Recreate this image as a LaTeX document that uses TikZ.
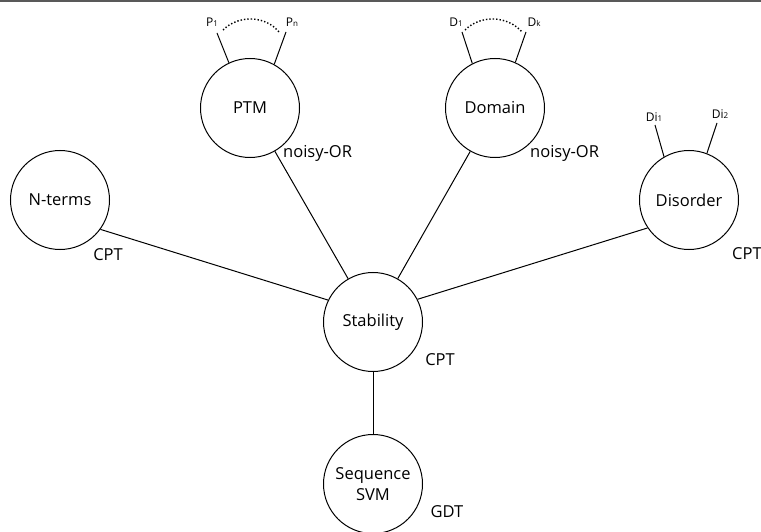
\documentclass[tikz,border=0pt]{standalone}
\usepackage{fontspec}
\setmainfont{Open Sans}
\begin{document}
\begin{tikzpicture}[x=1pt,y=-1pt,
  var/.style={draw, circle, line width=1pt, minimum size=99pt, inner sep=0pt, align=center, font=\fontsize{16.5}{20}\selectfont},
  tbl/.style={font=\fontsize{16.5}{20}\selectfont, inner sep=0pt},
  sub/.style={font=\fontsize{12}{13}\selectfont, inner sep=0pt},
  edge/.style={line width=1pt},
  dots/.style={dotted, line width=1.4pt}]
\useasboundingbox (0,0) rectangle (761,532);
\fill[black!65] (0,0) rectangle (761,2);

\node[var] (ptm) at (250,108) {PTM};
\node[var] (dom) at (495,108) {Domain};
\node[var] (nt) at (60,200) {N-terms};
\node[var] (dis) at (689,200) {Disorder};
\node[var] (stab) at (373,322) {Stability};
\node[var, font=\fontsize{16.5}{21}\selectfont] (seq) at (373,484) {Sequence\\SVM};

\node[tbl, anchor=west] (ptmt) at (283,153) {noisy-OR};
\node[tbl, anchor=west] (domt) at (530,153) {noisy-OR};
\node[tbl] (ntt) at (108,255) {CPT};
\node[tbl, anchor=west] (dist) at (732,254) {CPT};
\node[tbl] (stabt) at (440,360) {CPT};
\node[tbl] (seqt) at (447,512) {GDT};

\node[sub] (p1) at (212,22) {P{\fontsize{8}{9}\selectfont 1}};
\node[sub] (pn) at (292,22) {P{\fontsize{8}{9}\selectfont n}};
\node[sub] (d1) at (456,22) {D{\fontsize{8}{9}\selectfont 1}};
\node[sub] (dk) at (534,22) {D{\fontsize{8}{9}\selectfont k}};
\node[sub] (di1) at (654,117) {Di{\fontsize{8}{9}\selectfont 1}};
\node[sub] (di2) at (720,114) {Di{\fontsize{8}{9}\selectfont 2}};

\coordinate (p1e) at (217,33);
\coordinate (pne) at (286,32);
\coordinate (d1e) at (462,32);
\coordinate (dke) at (526,32);
\coordinate (di1e) at (655,125);
\coordinate (di2e) at (717,123);

\draw[edge] (ptm.115.6) -- (p1e);
\draw[edge] (ptm.61) -- (pne);
\draw[edge] (dom.117) -- (d1e);
\draw[edge] (dom.66) -- (dke);
\draw[edge] (dis.120) -- (di1e);
\draw[edge] (dis.69) -- (di2e);

\coordinate (pa) at (223,30); \coordinate (pb) at (279,32);
\coordinate (da) at (465,30); \coordinate (db) at (522,32);
\draw[dots] (pa) .. controls (238,15) and (265,15) .. (pb);
\draw[dots] (da) .. controls (480,15) and (507,15) .. (db);

\draw[edge] (ptm) -- (stab);
\draw[edge] (dom) -- (stab);
\draw[edge] (nt.-36) -- (stab.154);
\draw[edge] (dis.-146) -- (stab.27);
\draw[edge] (stab) -- (seq);
\end{tikzpicture}
\end{document}
